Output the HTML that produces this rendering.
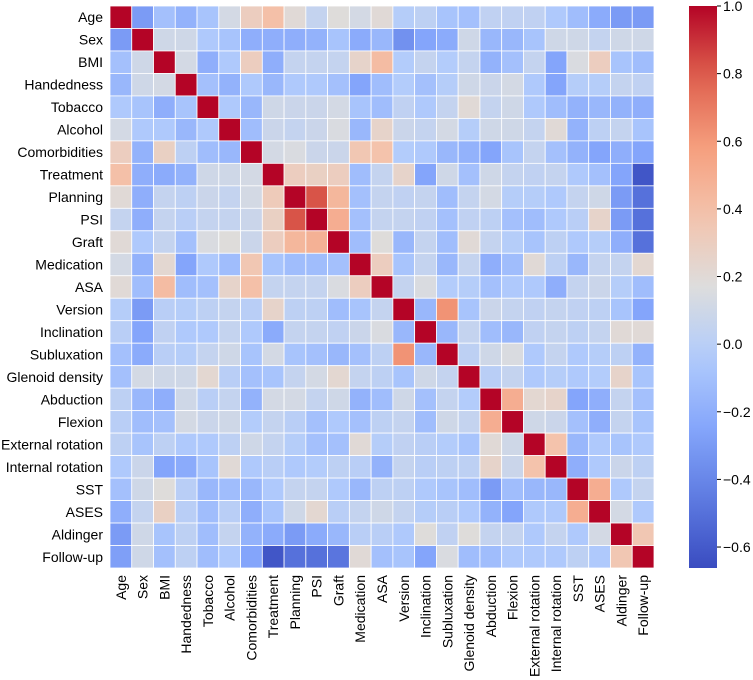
<!DOCTYPE html>
<html><head><meta charset="utf-8"><style>
html,body{margin:0;padding:0;background:#fff;width:753px;height:680px;overflow:hidden}
svg{display:block;font-family:"Liberation Sans",Arial,sans-serif}
</style></head><body>
<svg id="chart" width="753" height="680" viewBox="0 0 753 680" xmlns="http://www.w3.org/2000/svg">
<defs><linearGradient id="cbg" x1="0" y1="1" x2="0" y2="0"></linearGradient></defs>
<g id="cells"></g>
<g id="ylabels"></g>
<g id="xlabels"></g>
<g id="cbar"></g>
</svg>
<script>
const labels = ["Age","Sex","BMI","Handedness","Tobacco","Alcohol","Comorbidities","Treatment","Planning","PSI","Graft","Medication","ASA","Version","Inclination","Subluxation","Glenoid density","Abduction","Flexion","External rotation","Internal rotation","SST","ASES","Aldinger","Follow-up"];
const row0 = [1,-0.3,-0.1,-0.18,-0.08,0.12,0.3,0.4,0.2,0.05,0.18,0.12,0.2,-0.02,0.02,-0.08,-0.1,0.03,0.03,0.03,-0.05,-0.12,-0.22,-0.3,-0.3];
const row1 = [-0.3,1,0.1,0.1,-0.05,-0.08,-0.2,-0.2,-0.2,-0.18,-0.08,-0.22,-0.15,-0.35,-0.25,-0.22,0.1,-0.15,-0.15,-0.08,0.1,0.1,0.05,0.1,0.1];
const row2 = [-0.1,0.1,1,0.12,-0.2,-0.05,0.3,-0.2,0.05,0.05,0.05,0.25,0.42,-0.03,0.05,-0.03,0.05,-0.18,-0.1,0.05,-0.25,0.15,0.3,-0.08,-0.12];
const row3 = [-0.15,0.1,0.12,1,-0.1,-0.18,-0.05,-0.15,-0.05,-0.05,-0.1,-0.25,-0.12,-0.03,-0.1,-0.02,0.1,0.08,0.12,-0.05,-0.25,-0.02,-0.02,0.05,0.03];
const row4 = [-0.05,-0.08,-0.2,-0.08,1,-0.05,-0.15,0.1,0.08,0.08,0.12,-0.08,-0.12,0.03,-0.05,0.05,0.2,0.05,0.1,-0.05,-0.12,-0.18,-0.15,-0.18,-0.2];
const row5 = [0.12,-0.05,-0.05,-0.15,-0.05,1,-0.12,0.08,0.05,0.08,0.15,-0.15,0.25,0.08,0.05,0.12,-0.02,0.1,0.1,0.05,0.2,-0.18,0.02,0.05,-0.08];
const row6 = [0.3,-0.18,0.28,0.02,-0.12,-0.15,1,0.12,0.15,0.08,0.08,0.35,0.38,-0.03,-0.05,-0.15,-0.18,-0.25,-0.08,0.05,-0.1,-0.18,-0.25,-0.2,-0.25];
const row7 = [0.4,-0.2,-0.22,-0.18,0.1,0.1,0.12,1,0.3,0.28,0.3,-0.12,0.05,0.25,-0.25,0.1,-0.1,0.1,0.05,0.03,0.05,-0.05,-0.1,-0.25,-0.62];
const row8 = [0.2,-0.2,0.05,0.02,0.08,0.05,0.12,0.32,1,0.82,0.45,-0.1,0.05,0.03,0.05,-0.12,0.05,0.12,-0.02,-0.02,-0.05,0.05,0.1,-0.3,-0.5];
const row9 = [0.05,-0.2,0.05,0,0.05,0.05,0.08,0.28,0.82,1,0.5,-0.1,0.05,0.05,0.03,-0.1,0.03,0.02,-0.1,-0.12,-0.05,0,0.25,-0.3,-0.5];
const row10 = [0.2,-0.05,0.05,-0.1,0.15,0.18,0.08,0.3,0.45,0.48,1,-0.12,0.18,-0.15,0.05,-0.12,0.2,0.05,-0.02,-0.08,0.02,-0.05,-0.02,-0.2,-0.5];
const row11 = [0.12,-0.18,0.22,-0.25,-0.05,-0.12,0.35,-0.08,-0.12,-0.12,-0.1,1,0.3,-0.08,0.05,-0.15,0.05,-0.2,-0.12,0.2,0.02,-0.15,0.05,0.05,0.22];
const row12 = [0.2,-0.12,0.42,-0.12,-0.1,0.25,0.4,0.05,0.05,0.05,0.15,0.3,1,0.05,0.15,-0.03,-0.02,-0.1,-0.05,-0.05,-0.2,0.05,0.08,-0.02,-0.12];
const row13 = [-0.02,-0.3,0,-0.02,0.02,0.05,0,0.25,0.02,0.02,-0.12,-0.08,0.05,1,-0.15,0.62,-0.08,0.08,0.05,0.03,0.05,0.03,0.02,-0.08,-0.25];
const row14 = [0,-0.25,0.03,-0.05,-0.05,0.05,-0.05,-0.22,0.05,0.05,0.03,0.08,0.15,-0.15,1,-0.15,0.05,-0.12,-0.15,0.03,0.05,0.02,0.05,0.2,0.2];
const row15 = [-0.1,-0.22,0,-0.02,0.05,0.1,-0.08,0.12,-0.08,-0.1,-0.15,-0.1,0.02,0.62,-0.15,1,0.02,0.1,0.15,-0.05,0.05,-0.05,-0.02,0.02,-0.18];
const row16 = [-0.1,0.12,0.1,0.1,0.22,0,-0.1,-0.08,0.05,0.12,0.22,0.05,0.02,-0.08,0.1,0.05,1,0,0.05,-0.05,-0.02,-0.05,-0.03,0.25,-0.08];
const row17 = [0.02,-0.15,-0.2,0.1,0,0.05,-0.18,0.12,0.12,0.05,0.1,-0.18,-0.12,0.1,-0.1,0.05,-0.03,1,0.5,0.22,0.25,-0.25,-0.2,0.05,-0.1];
const row18 = [0,-0.12,-0.1,0.12,0.08,0.1,-0.03,0.05,0,-0.1,-0.05,-0.1,0.02,0.05,-0.12,0.1,0.05,0.5,1,0.1,0.08,-0.1,-0.2,0.05,-0.08];
const row19 = [0.02,-0.08,0.02,-0.05,-0.05,0.02,0.1,0.05,-0.02,-0.1,-0.1,0.2,-0.02,0.03,0,-0.03,-0.08,0.2,0.1,1,0.38,-0.15,-0.05,-0.08,-0.05];
const row20 = [-0.05,0.08,-0.25,-0.22,-0.08,0.2,-0.05,0,-0.05,-0.03,0.02,0,-0.18,0.05,0,0.02,0.02,0.25,0.08,0.38,1,-0.2,-0.05,0.08,0.02];
const row21 = [-0.1,0.1,0.18,0,-0.15,-0.12,-0.15,-0.05,0.05,0.05,-0.05,-0.15,0.02,0.02,-0.05,-0.08,-0.12,-0.3,-0.12,-0.15,-0.15,1,0.5,-0.05,0.05];
const row22 = [-0.2,0.05,0.28,0,-0.12,0,-0.2,-0.08,0.1,0.22,0,0.05,0.1,0.05,-0.02,0,-0.05,-0.18,-0.25,-0.05,-0.05,0.5,1,0.12,-0.05];
const row23 = [-0.3,0.1,-0.08,0.02,-0.12,0.05,-0.18,-0.22,-0.3,-0.22,-0.15,0,0,-0.05,0.18,0.03,0.18,0.05,0.05,-0.05,0.05,-0.05,0.12,1,0.35];
const row24 = [-0.28,0.1,-0.1,0.02,-0.12,-0.05,-0.25,-0.62,-0.5,-0.5,-0.48,0.2,-0.1,-0.08,-0.25,0.15,-0.12,-0.12,-0.05,-0.05,-0.05,0.02,-0.05,0.35,1];
const matrix = [row0,row1,row2,row3,row4,row5,row6,row7,row8,row9,row10,row11,row12,row13,row14,row15,row16,row17,row18,row19,row20,row21,row22,row23,row24];
const cbTicks = [1.0,0.8,0.6,0.4,0.2,0.0,-0.2,-0.4,-0.6];
const vmin = -0.662, vmax = 1.0;

const NS="http://www.w3.org/2000/svg";
const L=110, T=6, W=544, H=562;
const FS=14;
const n=labels.length, cw=W/n, ch=H/n;
const xPos = i => L + i*cw;
const yPos = i => T + i*ch;
const stops=[[0,[58,76,192]],[0.125,[94,123,226]],[0.25,[133,166,251]],[0.375,[177,203,252]],[0.5,[221,221,221]],[0.625,[244,196,173]],[0.75,[245,158,125]],[0.875,[222,96,77]],[1,[180,4,38]]];
function cmap(t){t=Math.max(0,Math.min(1,t));for(let k=1;k<stops.length;k++){if(t<=stops[k][0]){const a=stops[k-1],b=stops[k];const f=(t-a[0])/(b[0]-a[0]);const c=a[1].map((v,j)=>Math.round(v+(b[1][j]-v)*f));return `rgb(${c[0]},${c[1]},${c[2]})`;}}return 'rgb(180,4,38)';}
const norm = v => (v-vmin)/(vmax-vmin);
function mk(tag,attrs,parent){const e=document.createElementNS(NS,tag);for(const k in attrs)e.setAttribute(k,attrs[k]);parent.appendChild(e);return e;}

const gc=document.getElementById('cells');
matrix.forEach((row,r)=>row.forEach((v,c)=>{
  const e=mk('rect',{x:xPos(c),y:yPos(r),width:cw,height:ch,fill:cmap(norm(v)),stroke:'#fff','stroke-width':0.8},gc);
  
  
}));
const gy=document.getElementById('ylabels'), gx=document.getElementById('xlabels');
labels.forEach((lab,i)=>{
  const t=mk('text',{x:103,y:yPos(i)+ch/2+5,'text-anchor':'end','font-size':FS,fill:'#000'},gy);
  t.textContent=lab;
  
  
  const cx=xPos(i)+cw/2+5;
  const u=mk('text',{x:cx,y:575,'text-anchor':'end','font-size':FS,fill:'#000',transform:`rotate(-90 ${cx} 575)`},gx);
  u.textContent=lab;
  
  
});
const grad=document.getElementById('cbg');
for(let k=0;k<=20;k++){mk('stop',{offset:(k/20),'stop-color':cmap(k/20)},grad);}
const cb=document.getElementById('cbar');
const CBX=689, CBW=28, CBT=6, CBB=568;
const cbY = v => CBB - norm(v)*(CBB-CBT);
const bar=mk('rect',{x:CBX,y:CBT,width:CBW,height:CBB-CBT,fill:'url(#cbg)'},cb);


cbTicks.forEach(v=>{
  const y=cbY(v);
  mk('line',{x1:CBX+CBW,x2:CBX+CBW+4,y1:y,y2:y,stroke:'#000','stroke-width':1},cb);
  const t=mk('text',{x:CBX+CBW+6,y:y+5,'font-size':FS,fill:'#000'},cb);
  t.textContent=(v<0?'\u2212':'')+Math.abs(v).toFixed(1);
  
  
});
</script>
</body></html>
